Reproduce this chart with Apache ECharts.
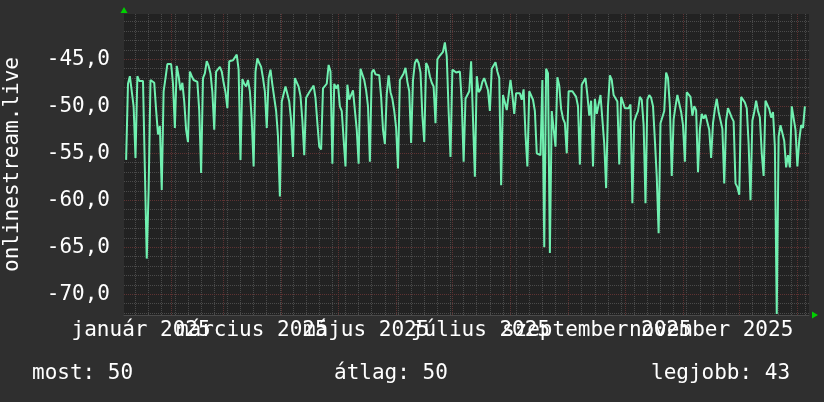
<!DOCTYPE html>
<html>
<head>
<meta charset="utf-8">
<script src="https://cdn.jsdelivr.net/npm/echarts@6.0.0/dist/echarts.min.js"></script>
<style>
html,body{margin:0;padding:0;background:#2f2f2f;}
#c{width:824px;height:402px;}
</style>
</head>
<body>
<div id="c"></div>
<script>
// x values are days counted from 1 January 2025 (day 0)
const firstDay = 7; // first daily sample: 8 January 2025
const valuesJanFeb = [-55.7,-47.6,-46.8,-47.0,-50.0,-55.5,-46.8,-47.3,-47.4,-47.3,-47.2,-66.2,-58.9,-47.2,-47.3,-47.5,-50.4,-53.0,-52.1,-58.9,-48.4,-47.0,-45.5,-45.4,-45.5,-47.6,-52.3,-45.7,-46.8,-48.3,-47.5,-49.5,-52.5,-53.8,-46.3,-46.8,-47.2,-47.2,-47.4,-50.5,-57.1,-47.0,-46.5,-45.2,-45.7,-46.5,-48.5,-52.5,-46.3,-46.2,-45.8,-46.3,-47.5,-48.5];
const valuesMarApr = [-50.2,-45.2,-45.1,-45.1,-45.1,-44.5,-46.1,-55.7,-47.1,-47.6,-47.9,-47.2,-48.4,-51.4,-56.4,-46.3,-44.9,-45.4,-45.8,-47.0,-48.4,-52.3,-47.0,-46.1,-47.7,-47.9,-50.5,-53.2,-59.6,-49.5,-48.7,-47.9,-47.9,-49.5,-51.5,-55.4,-47.0,-46.9,-47.9,-48.9,-51.5,-55.2,-49.1,-49.1,-48.4,-48.1,-47.8,-49.1,-51.8,-54.3,-54.6,-48.1,-47.9,-47.6,-45.6,-46.3,-56.1,-47.6,-48.1,-47.7,-50.0];
const valuesMayJun = [-50.5,-53.5,-56.4,-47.7,-49.3,-49.5,-48.3,-48.3,-52.5,-56.1,-46.0,-46.2,-47.2,-48.3,-50.0,-55.9,-46.4,-46.1,-46.6,-46.6,-46.7,-49.0,-52.5,-54.0,-48.7,-46.7,-48.5,-49.2,-50.5,-52.3,-56.6,-47.2,-47.0,-46.5,-45.9,-47.4,-48.4,-53.9,-47.2,-45.4,-45.0,-45.4,-46.4,-51.0,-53.8,-45.4,-45.8,-46.8,-47.5,-47.9,-51.8,-45.0,-44.7,-44.6,-44.2,-43.2,-44.7,-50.5,-55.4,-46.1];
const valuesJulAug = [-46.3,-46.4,-46.6,-46.3,-49.5,-55.9,-49.2,-49.3,-48.4,-45.2,-45.1,-57.5,-46.8,-48.5,-48.2,-47.4,-47.0,-47.0,-48.3,-50.5,-46.0,-45.8,-45.3,-46.3,-47.0,-58.4,-48.8,-48.6,-50.4,-48.8,-47.2,-48.8,-50.8,-48.6,-48.4,-48.6,-49.3,-48.2,-53.0,-56.4,-48.4,-48.6,-49.3,-50.5,-55.0,-55.2,-55.2,-47.2,-65.0,-46.0,-46.5,-65.6,-50.5,-50.6,-54.3,-46.9,-47.8,-50.3,-51.3,-51.8,-55.0,-48.4];
const valuesSepOct = [-48.3,-48.4,-48.6,-49.0,-50.0,-56.2,-47.7,-47.5,-47.0,-48.8,-51.0,-49.4,-56.4,-49.2,-50.8,-50.6,-48.8,-48.8,-54.0,-58.7,-50.0,-46.7,-47.2,-48.8,-48.8,-49.5,-56.2,-49.0,-48.8,-50.2,-50.4,-50.2,-49.8,-60.3,-51.6,-51.0,-50.5,-49.0,-49.3,-52.0,-60.3,-49.3,-48.8,-49.1,-50.0,-53.6,-57.5,-63.5,-51.8,-51.6,-50.5,-46.4,-47.0,-50.0,-57.4,-51.4,-50.0,-48.8,-49.0,-50.6,-52.0];
const valuesNovJan = [-55.9,-48.5,-48.5,-49.0,-51.0,-50.0,-50.4,-57.0,-52.4,-50.8,-51.3,-50.9,-51.1,-52.5,-55.5,-51.8,-50.3,-49.2,-50.6,-50.7,-52.4,-58.2,-51.5,-50.2,-50.2,-51.2,-51.6,-58.2,-58.6,-59.4,-49.0,-48.9,-49.6,-50.2,-54.0,-60.0,-51.5,-50.6,-49.4,-50.5,-51.2,-55.0,-57.4,-49.4,-49.5,-50.3,-51.2,-50.6,-54.3,-72.1,-53.2,-52.0,-52.0,-53.7,-56.5,-55.2,-56.5,-50.0,-49.8,-52.5,-56.4,-53.6,-52.0,-52.3,-50.0];

// axis / tick definitions
const xMin = 5.87, xMax = 371.2;          // shown window (days)
const yMin = -72.2, yMax = -40.18;
const monthStarts = [31,59,90,120,151,181,212,243,273,304,334,365];
const firstMonday = 12;                    // 13 January 2025
const labelDays = [15,74,135,196,258,319];
const labelTexts = ['január 2025','március 2025','május 2025','július 2025','szeptember 2025','november 2025'];
const yLabelValues = [-70,-65,-60,-55,-50,-45];
const yMinorStep = 1, yMajorStep = 5;
const yTitle = 'onlinestream.live';
const legendTexts = ['most: 50','átlag: 50','legjobb: 43'];

const values = [].concat(valuesJanFeb, valuesMarApr, valuesMayJun, valuesJulAug, valuesSepOct, valuesNovJan);
const seriesData = values.map((v, i) => [firstDay + i, v]);

const FONT = 'DejaVu Sans Mono';
const minorColor = '#4a4a4a';
const majorColor = '#5e3232';

const weekLines = [];
for (let d = firstMonday; d <= xMax; d += 7) if (monthStarts.indexOf(d) < 0) weekLines.push({xAxis: d});
const hMinor = [], hMajor = [];
for (let v = Math.ceil(yMin); v <= yMax; v += yMinorStep) {
  if (v % yMajorStep === 0) hMajor.push({yAxis: v}); else hMinor.push({yAxis: v});
}
const monthLines = monthStarts.filter(d => d > xMin && d < xMax).map(d => ({xAxis: d}));

function gridSeries(data, color, z) {
  return {
    type: 'line', data: [], z: z, silent: true, animation: false,
    markLine: {
      silent: true, animation: false, symbol: ['none','none'],
      label: {show: false}, emphasis: {disabled: true},
      lineStyle: {color: color, type: [1,1], width: 1},
      data: data
    }
  };
}

// month labels alternate between two bottom axes so neighbouring labels may overlap as in the original
const labelsA = labelDays.filter((d, i) => i % 2 === 0);
const labelsB = labelDays.filter((d, i) => i % 2 === 1);
function xAxisDef(custom, showLine) {
  return {
    type: 'value', min: xMin, max: xMax, position: 'bottom', offset: 0,
    splitLine: {show: false},
    axisLine: {show: showLine, lineStyle: {color: '#4a4a4a', width: 1}},
    axisTick: {show: false},
    axisLabel: {
      customValues: custom, showMinLabel: true, showMaxLabel: true, hideOverlap: false,
      color: '#ffffff', fontFamily: FONT, fontSize: 21, margin: 5,
      formatter: v => labelTexts[labelDays.indexOf(v)]
    }
  };
}

const chart = echarts.init(document.getElementById('c'), null, {renderer: 'canvas'});
const textStyle = {color: '#ffffff', fontFamily: FONT, fontSize: 21, fontWeight: 'normal'};
const option = {
  backgroundColor: '#2f2f2f',
  animation: false,
  title: [
    {text: legendTexts[0], left: 32, top: 363, padding: 0, textStyle: textStyle},
    {text: legendTexts[1], left: 334, top: 363, padding: 0, textStyle: textStyle},
    {text: legendTexts[2], left: 651, top: 363, padding: 0, textStyle: textStyle}
  ],
  grid: {left: 124, right: 15, top: 14, bottom: 87, show: true, backgroundColor: '#222222', borderWidth: 0,
         containLabel: false, outerBoundsMode: 'none'},
  xAxis: [xAxisDef(labelsA, true), xAxisDef(labelsB, false)],
  yAxis: {
    type: 'value', min: yMin, max: yMax,
    splitLine: {show: false},
    axisLine: {show: false},
    axisTick: {show: false},
    name: yTitle, nameLocation: 'middle', nameRotate: 90, nameGap: 101,
    nameTextStyle: {color: '#ffffff', fontFamily: FONT, fontSize: 21},
    axisLabel: {
      customValues: yLabelValues, showMinLabel: true, showMaxLabel: true,
      color: '#ffffff', fontFamily: FONT, fontSize: 21, margin: 14,
      formatter: v => v.toFixed(1).replace('.', ',')
    }
  },
  series: [
    gridSeries(weekLines.concat(hMinor), minorColor, 1),
    gridSeries(monthLines.concat(hMajor), majorColor, 2),
    {
      type: 'line', data: seriesData, z: 5, showSymbol: false, silent: true,
      lineStyle: {color: '#70f0b0', width: 2}, clip: true
    }
  ]
};
chart.setOption(option);

// axis arrows, positioned through the grid's coordinate system
const pTop = chart.convertToPixel({gridIndex: 0}, [xMin, yMax]);
const pRight = chart.convertToPixel({gridIndex: 0}, [xMax, yMin]);
chart.setOption({
  graphic: [
    {type: 'polygon', silent: true, z: 100, shape: {points: [[pTop[0] - 3.5, pTop[1] - 1], [pTop[0] + 3.5, pTop[1] - 1], [pTop[0], pTop[1] - 7]]}, style: {fill: '#00d000'}},
    {type: 'polygon', silent: true, z: 100, shape: {points: [[pRight[0] + 3, pRight[1] - 3.5], [pRight[0] + 3, pRight[1] + 3.5], [pRight[0] + 9, pRight[1]]]}, style: {fill: '#00d000'}}
  ]
});
</script>
</body>
</html>
